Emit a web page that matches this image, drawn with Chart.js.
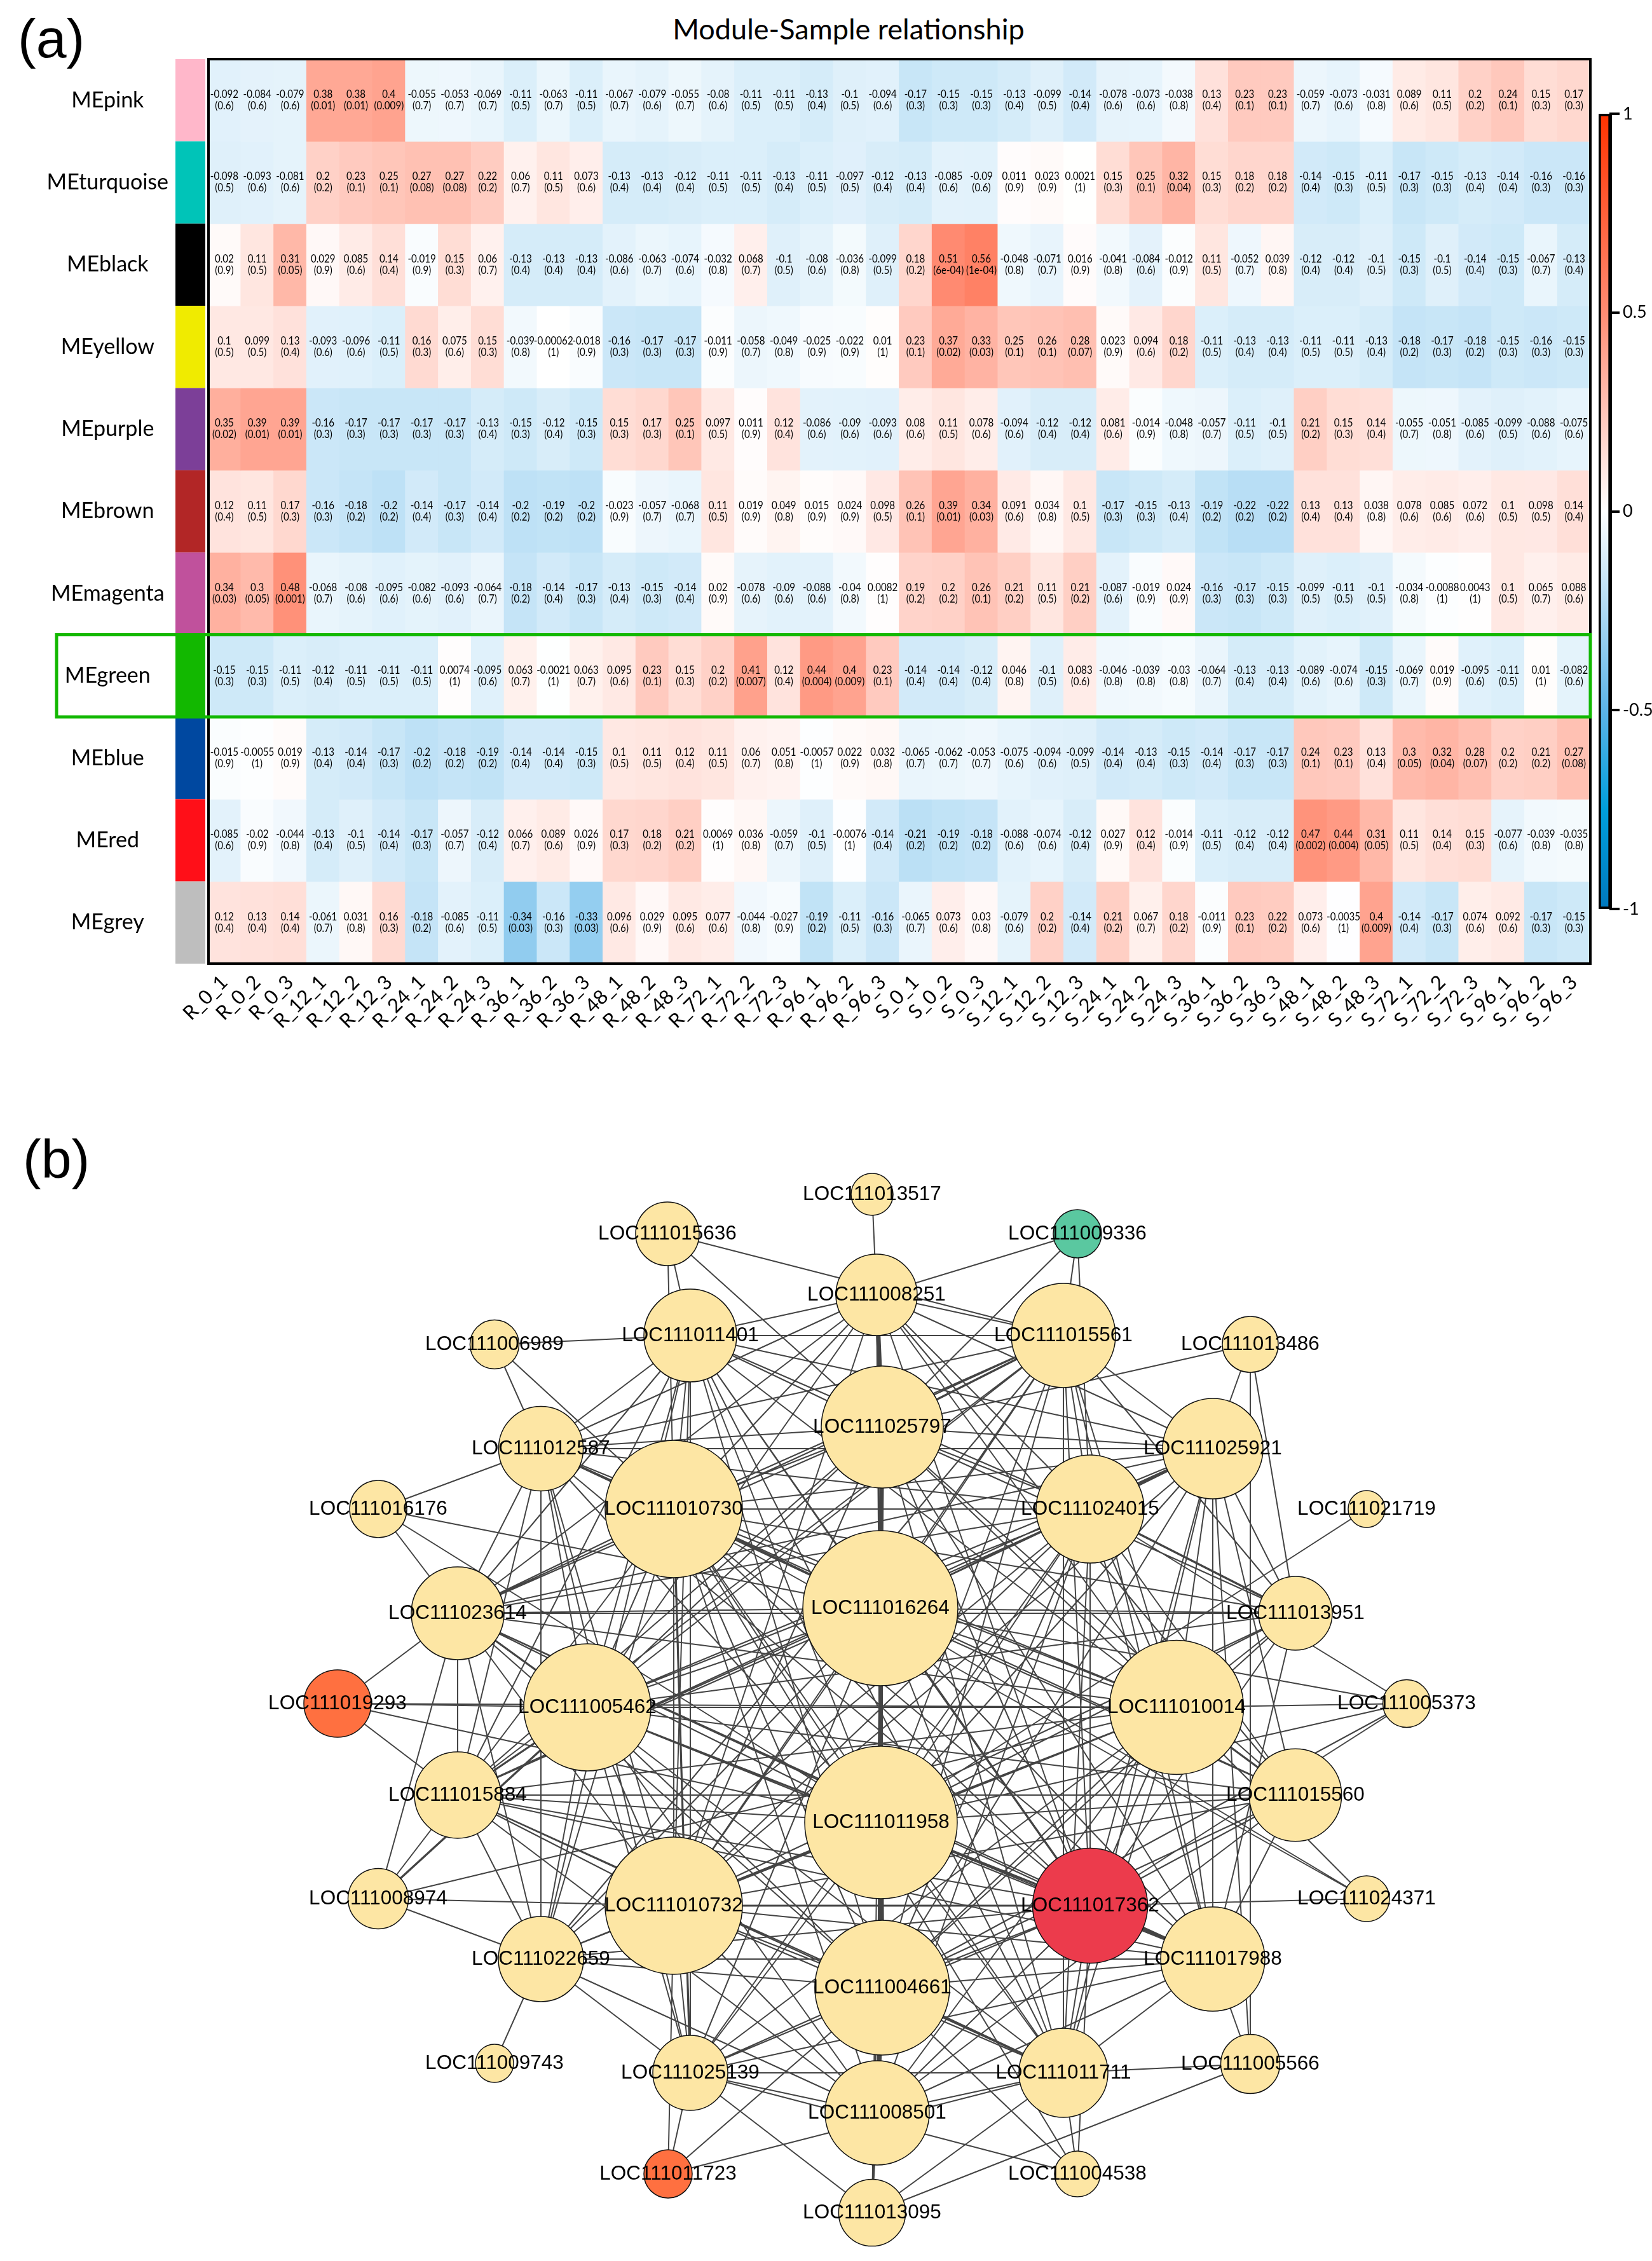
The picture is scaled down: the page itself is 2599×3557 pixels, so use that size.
<!DOCTYPE html>
<html><head><meta charset="utf-8">
<style>
html,body{margin:0;padding:0;background:#fff;width:2599px;height:3557px;overflow:hidden}
canvas{position:absolute;display:block}
.t{position:absolute;color:#000;white-space:nowrap;font-family:"Liberation Sans",sans-serif}
</style>
<script src="https://cdn.jsdelivr.net/npm/chart.js@4"></script>
</head><body>
<div class="t" style="left:28px;top:10px;font-size:86px;line-height:100px">(a)</div>
<div class="t" style="left:36px;top:1773px;font-size:86px;line-height:100px">(b)</div>
<div class="t" style="left:1035px;top:18px;width:600px;text-align:center;font-size:45px;line-height:54px;font-family:Lato,sans-serif">Module-Sample relationship</div>
<canvas id="heat" width="2599" height="1700" style="left:0;top:0;width:2599px;height:1700px"></canvas>
<canvas id="bar" width="99" height="1310" style="left:2500px;top:150px;width:99px;height:1310px"></canvas>
<canvas id="net" width="2599" height="1857" style="left:0;top:1700px;width:2599px;height:1857px"></canvas>
<script>
const samples=["R_0_1","R_0_2","R_0_3","R_12_1","R_12_2","R_12_3","R_24_1","R_24_2","R_24_3","R_36_1","R_36_2","R_36_3","R_48_1","R_48_2","R_48_3","R_72_1","R_72_2","R_72_3","R_96_1","R_96_2","R_96_3","S_0_1","S_0_2","S_0_3","S_12_1","S_12_2","S_12_3","S_24_1","S_24_2","S_24_3","S_36_1","S_36_2","S_36_3","S_48_1","S_48_2","S_48_3","S_72_1","S_72_2","S_72_3","S_96_1","S_96_2","S_96_3"];
const moduleNames=["MEpink","MEturquoise","MEblack","MEyellow","MEpurple","MEbrown","MEmagenta","MEgreen","MEblue","MEred","MEgrey"];
const moduleColors=["#FFB7CA","#00C4B8","#000000","#F0EB00","#7C3F98","#B22626","#C0519C","#12B800","#0048A0","#FF0F18","#BEBEBE"];
const highlightedModule="MEgreen";
const rPink=[-0.092,-0.084,-0.079,0.38,0.38,0.4,-0.055,-0.053,-0.069,-0.11,-0.063,-0.11,-0.067,-0.079,-0.055,-0.08,-0.11,-0.11,-0.13,-0.1,-0.094,-0.17,-0.15,-0.15,-0.13,-0.099,-0.14,-0.078,-0.073,-0.038,0.13,0.23,0.23,-0.059,-0.073,-0.031,0.089,0.11,0.2,0.24,0.15,0.17];
const pPink=[0.6,0.6,0.6,0.01,0.01,0.009,0.7,0.7,0.7,0.5,0.7,0.5,0.7,0.6,0.7,0.6,0.5,0.5,0.4,0.5,0.6,0.3,0.3,0.3,0.4,0.5,0.4,0.6,0.6,0.8,0.4,0.1,0.1,0.7,0.6,0.8,0.6,0.5,0.2,0.1,0.3,0.3];
const rTurquoise=[-0.098,-0.093,-0.081,0.2,0.23,0.25,0.27,0.27,0.22,0.06,0.11,0.073,-0.13,-0.13,-0.12,-0.11,-0.11,-0.13,-0.11,-0.097,-0.12,-0.13,-0.085,-0.09,0.011,0.023,0.0021,0.15,0.25,0.32,0.15,0.18,0.18,-0.14,-0.15,-0.11,-0.17,-0.15,-0.13,-0.14,-0.16,-0.16];
const pTurquoise=[0.5,0.6,0.6,0.2,0.1,0.1,0.08,0.08,0.2,0.7,0.5,0.6,0.4,0.4,0.4,0.5,0.5,0.4,0.5,0.5,0.4,0.4,0.6,0.6,0.9,0.9,1,0.3,0.1,0.04,0.3,0.2,0.2,0.4,0.3,0.5,0.3,0.3,0.4,0.4,0.3,0.3];
const rBlack=[0.02,0.11,0.31,0.029,0.085,0.14,-0.019,0.15,0.06,-0.13,-0.13,-0.13,-0.086,-0.063,-0.074,-0.032,0.068,-0.1,-0.08,-0.036,-0.099,0.18,0.51,0.56,-0.048,-0.071,0.016,-0.041,-0.084,-0.012,0.11,-0.052,0.039,-0.12,-0.12,-0.1,-0.15,-0.1,-0.14,-0.15,-0.067,-0.13];
const pBlack=[0.9,0.5,0.05,0.9,0.6,0.4,0.9,0.3,0.7,0.4,0.4,0.4,0.6,0.7,0.6,0.8,0.7,0.5,0.6,0.8,0.5,0.2,"6e-04","1e-04",0.8,0.7,0.9,0.8,0.6,0.9,0.5,0.7,0.8,0.4,0.4,0.5,0.3,0.5,0.4,0.3,0.7,0.4];
const rYellow=[0.1,0.099,0.13,-0.093,-0.096,-0.11,0.16,0.075,0.15,-0.039,-0.00062,-0.018,-0.16,-0.17,-0.17,-0.011,-0.058,-0.049,-0.025,-0.022,0.01,0.23,0.37,0.33,0.25,0.26,0.28,0.023,0.094,0.18,-0.11,-0.13,-0.13,-0.11,-0.11,-0.13,-0.18,-0.17,-0.18,-0.15,-0.16,-0.15];
const pYellow=[0.5,0.5,0.4,0.6,0.6,0.5,0.3,0.6,0.3,0.8,1,0.9,0.3,0.3,0.3,0.9,0.7,0.8,0.9,0.9,1,0.1,0.02,0.03,0.1,0.1,0.07,0.9,0.6,0.2,0.5,0.4,0.4,0.5,0.5,0.4,0.2,0.3,0.2,0.3,0.3,0.3];
const rPurple=[0.35,0.39,0.39,-0.16,-0.17,-0.17,-0.17,-0.17,-0.13,-0.15,-0.12,-0.15,0.15,0.17,0.25,0.097,0.011,0.12,-0.086,-0.09,-0.093,0.08,0.11,0.078,-0.094,-0.12,-0.12,0.081,-0.014,-0.048,-0.057,-0.11,-0.1,0.21,0.15,0.14,-0.055,-0.051,-0.085,-0.099,-0.088,-0.075];
const pPurple=[0.02,0.01,0.01,0.3,0.3,0.3,0.3,0.3,0.4,0.3,0.4,0.3,0.3,0.3,0.1,0.5,0.9,0.4,0.6,0.6,0.6,0.6,0.5,0.6,0.6,0.4,0.4,0.6,0.9,0.8,0.7,0.5,0.5,0.2,0.3,0.4,0.7,0.8,0.6,0.5,0.6,0.6];
const rBrown=[0.12,0.11,0.17,-0.16,-0.18,-0.2,-0.14,-0.17,-0.14,-0.2,-0.19,-0.2,-0.023,-0.057,-0.068,0.11,0.019,0.049,0.015,0.024,0.098,0.26,0.39,0.34,0.091,0.034,0.1,-0.17,-0.15,-0.13,-0.19,-0.22,-0.22,0.13,0.13,0.038,0.078,0.085,0.072,0.1,0.098,0.14];
const pBrown=[0.4,0.5,0.3,0.3,0.2,0.2,0.4,0.3,0.4,0.2,0.2,0.2,0.9,0.7,0.7,0.5,0.9,0.8,0.9,0.9,0.5,0.1,0.01,0.03,0.6,0.8,0.5,0.3,0.3,0.4,0.2,0.2,0.2,0.4,0.4,0.8,0.6,0.6,0.6,0.5,0.5,0.4];
const rMagenta=[0.34,0.3,0.48,-0.068,-0.08,-0.095,-0.082,-0.093,-0.064,-0.18,-0.14,-0.17,-0.13,-0.15,-0.14,0.02,-0.078,-0.09,-0.088,-0.04,0.0082,0.19,0.2,0.26,0.21,0.11,0.21,-0.087,-0.019,0.024,-0.16,-0.17,-0.15,-0.099,-0.11,-0.1,-0.034,-0.0088,0.0043,0.1,0.065,0.088];
const pMagenta=[0.03,0.05,0.001,0.7,0.6,0.6,0.6,0.6,0.7,0.2,0.4,0.3,0.4,0.3,0.4,0.9,0.6,0.6,0.6,0.8,1,0.2,0.2,0.1,0.2,0.5,0.2,0.6,0.9,0.9,0.3,0.3,0.3,0.5,0.5,0.5,0.8,1,1,0.5,0.7,0.6];
const rGreen=[-0.15,-0.15,-0.11,-0.12,-0.11,-0.11,-0.11,0.0074,-0.095,0.063,-0.0021,0.063,0.095,0.23,0.15,0.2,0.41,0.12,0.44,0.4,0.23,-0.14,-0.14,-0.12,0.046,-0.1,0.083,-0.046,-0.039,-0.03,-0.064,-0.13,-0.13,-0.089,-0.074,-0.15,-0.069,0.019,-0.095,-0.11,0.01,-0.082];
const pGreen=[0.3,0.3,0.5,0.4,0.5,0.5,0.5,1,0.6,0.7,1,0.7,0.6,0.1,0.3,0.2,0.007,0.4,0.004,0.009,0.1,0.4,0.4,0.4,0.8,0.5,0.6,0.8,0.8,0.8,0.7,0.4,0.4,0.6,0.6,0.3,0.7,0.9,0.6,0.5,1,0.6];
const rBlue=[-0.015,-0.0055,0.019,-0.13,-0.14,-0.17,-0.2,-0.18,-0.19,-0.14,-0.14,-0.15,0.1,0.11,0.12,0.11,0.06,0.051,-0.0057,0.022,0.032,-0.065,-0.062,-0.053,-0.075,-0.094,-0.099,-0.14,-0.13,-0.15,-0.14,-0.17,-0.17,0.24,0.23,0.13,0.3,0.32,0.28,0.2,0.21,0.27];
const pBlue=[0.9,1,0.9,0.4,0.4,0.3,0.2,0.2,0.2,0.4,0.4,0.3,0.5,0.5,0.4,0.5,0.7,0.8,1,0.9,0.8,0.7,0.7,0.7,0.6,0.6,0.5,0.4,0.4,0.3,0.4,0.3,0.3,0.1,0.1,0.4,0.05,0.04,0.07,0.2,0.2,0.08];
const rRed=[-0.085,-0.02,-0.044,-0.13,-0.1,-0.14,-0.17,-0.057,-0.12,0.066,0.089,0.026,0.17,0.18,0.21,0.0069,0.036,-0.059,-0.1,-0.0076,-0.14,-0.21,-0.19,-0.18,-0.088,-0.074,-0.12,0.027,0.12,-0.014,-0.11,-0.12,-0.12,0.47,0.44,0.31,0.11,0.14,0.15,-0.077,-0.039,-0.035];
const pRed=[0.6,0.9,0.8,0.4,0.5,0.4,0.3,0.7,0.4,0.7,0.6,0.9,0.3,0.2,0.2,1,0.8,0.7,0.5,1,0.4,0.2,0.2,0.2,0.6,0.6,0.4,0.9,0.4,0.9,0.5,0.4,0.4,0.002,0.004,0.05,0.5,0.4,0.3,0.6,0.8,0.8];
const rGrey=[0.12,0.13,0.14,-0.061,0.031,0.16,-0.18,-0.085,-0.11,-0.34,-0.16,-0.33,0.096,0.029,0.095,0.077,-0.044,-0.027,-0.19,-0.11,-0.16,-0.065,0.073,0.03,-0.079,0.2,-0.14,0.21,0.067,0.18,-0.011,0.23,0.22,0.073,-0.0035,0.4,-0.14,-0.17,0.074,0.092,-0.17,-0.15];
const pGrey=[0.4,0.4,0.4,0.7,0.8,0.3,0.2,0.6,0.5,0.03,0.3,0.03,0.6,0.9,0.6,0.6,0.8,0.9,0.2,0.5,0.3,0.7,0.6,0.8,0.6,0.2,0.4,0.2,0.7,0.2,0.9,0.1,0.2,0.6,1,0.009,0.4,0.3,0.6,0.6,0.3,0.3];
const correlations=[rPink,rTurquoise,rBlack,rYellow,rPurple,rBrown,rMagenta,rGreen,rBlue,rRed,rGrey];
const pvalues=[pPink,pTurquoise,pBlack,pYellow,pPurple,pBrown,pMagenta,pGreen,pBlue,pRed,pGrey];
const colorbarTicks=[1,0.5,0,-0.5,-1];
const paletteValues=[-1,-0.75,-0.5,0,0.5,1];
const paletteRGB=[[0,120,190],[0,159,220],[93,180,232],[255,255,255],[255,140,115],[255,51,0]];

const nodeLabels=["LOC111013517","LOC111015636","LOC111009336","LOC111008251","LOC111011401","LOC111015561","LOC111006989","LOC111013486","LOC111025797","LOC111012587","LOC111025921","LOC111016176","LOC111010730","LOC111024015","LOC111021719","LOC111016264","LOC111023614","LOC111013951","LOC111019293","LOC111005462","LOC111010014","LOC111005373","LOC111015884","LOC111015560","LOC111011958","LOC111008974","LOC111010732","LOC111017362","LOC111024371","LOC111022659","LOC111017988","LOC111004661","LOC111009743","LOC111005566","LOC111025139","LOC111011711","LOC111008501","LOC111011723","LOC111004538","LOC111013095"];
const nodeX=[-13,-335,310,-6,-299,288,-607,582,3,-534,523,-790,-325,330,765,0,-665,653,-854,-461,466,828,-665,653,1,-790,-325,330,765,-534,523,3,-607,582,-299,288,-5,-334,310,-13];
const nodeY=[801,739,739,643,579,579,565,565,435,401,401,306,306,306,306,150,142,142,0,-6,-6,0,-144,-144,-187,-307,-318,-318,-307,-402,-402,-447,-566,-567,-581,-581,-644,-740,-740,-801];
const nodeSize=[33,50,38,64,73,82,38.6,44,96,66.6,79,45,108,85,29,122,73,58,53,100,105.5,37.5,68,72.7,120,47.5,108,90.5,36,67,82,106,30,46.5,59,70,82,38,36,52.6];
const nodeFill=["#FDE6A4","#FDE6A4","#5AC8A0","#FDE6A4","#FDE6A4","#FDE6A4","#FDE6A4","#FDE6A4","#FDE6A4","#FDE6A4","#FDE6A4","#FDE6A4","#FDE6A4","#FDE6A4","#FDE6A4","#FDE6A4","#FDE6A4","#FDE6A4","#FF7040","#FDE6A4","#FDE6A4","#FDE6A4","#FDE6A4","#FDE6A4","#FDE6A4","#FDE6A4","#FDE6A4","#EC3B4C","#FDE6A4","#FDE6A4","#FDE6A4","#FDE6A4","#FDE6A4","#FDE6A4","#FDE6A4","#FDE6A4","#FDE6A4","#FF7040","#FDE6A4","#FDE6A4"];
const edgeLists=[
"16264: 25797 11958 04661 08501 08251 10730 10732 05462 10014 17362 24015 11401 15561 12587 23614 15884 13951 25921 15560 17988 11711 22659 25139 13095 16176 05373 24371",
"11958: 25797 04661 08501 08251 10730 10732 05462 10014 17362 24015 15561 11401 23614 15884 25921 15560 17988 11711 22659 25139 12587 13095 13951 21719 05373 19293 16176",
"04661: 08501 25797 08251 10730 10732 05462 10014 17362 24015 11711 17988 15884 23614 15560 25921 22659 25139 13095 13951 11401 15561 05373 11723 04538",
"08501: 25797 13095 10732 10730 05462 10014 17362 11711 17988 24015 25139 22659 15884 15560",
"25797: 08251 10730 10732 05462 10014 17362 24015 15561 11401 12587 23614 15884 25921 13951 15560 17988 11711 13486 15636 09336",
"08251: 10730 05462 10014 24015 15561 11401 12587 25921 23614 15560 17362 10732 13517 09336",
"10730: 10732 05462 10014 17362 24015 11401 15561 12587 23614 15884 25921 17988 15560 13951 11711 06989 22659 25139 15636 04538 24371",
"10732: 05462 10014 17362 24015 11401 15561 12587 23614 15884 22659 25921 17988 15560 13951 11711 08974 25139 11723",
"05462: 10014 17362 24015 23614 15884 11401 15561 12587 22659 25921 17988 11711 13951 15560 19293 25139 08974",
"10014: 17362 24015 15561 11401 12587 23614 15884 25921 17988 13951 15560 22659 11711 25139 05373 19293 08974 24371",
"17362: 24015 15561 11401 12587 23614 15884 25921 17988 15560 13951 24371 22659 11711 04538 25139 05373",
"24015: 15561 25921 11401 12587 23614 15884 13951 15560 17988 11711 22659 25139 05373 09336",
"15561: 25921 11401 12587 23614 15884 17988 13951 11711 09336 22659 15636",
"11401: 15636 06989 12587 23614 15884 25921 22659 25139 11711",
"12587: 06989 16176 25921 23614 15884 22659 25139",
"23614: 16176 19293 15884 25921 13951 22659 08974 17988",
"15884: 19293 08974 25921 17988 22659 11711 15560",
"25921: 13486 13951 15560 17988 05566 11711",
"13486: 05566 13951",
"17988: 05566 13951 15560 11711 25139 22659",
"05566: 11711 13095",
"11711: 13095 25139 11723 04538",
"25139: 11723 13095 22659 04538",
"22659: 09743 08974"
];
const heavyEdges=["08251 25797","25797 16264","16264 11958","11958 04661","04661 08501"];
const mediumEdges=["25139 10730","12587 10730","23614 05462","15884 05462","25921 24015","24015 13951","11958 17362","17362 17988","04661 11711","10732 17362","16264 17362","10730 16264","11958 10732","08974 05462","25797 15561","10014 15560"];

function paletteColor(v){
  let i=0; while(i<paletteValues.length-2&&v>paletteValues[i+1])i++;
  const t=(v-paletteValues[i])/(paletteValues[i+1]-paletteValues[i]);
  const a=paletteRGB[i],b=paletteRGB[i+1];
  return `rgb(${a.map((c,k)=>Math.round(c+(b[k]-c)*t)).join(",")})`;
}
Chart.defaults.animation=false;
Chart.defaults.devicePixelRatio=1;
Chart.defaults.responsive=false;
Chart.defaults.events=[];
Chart.defaults.plugins.legend.display=false;
Chart.defaults.plugins.tooltip.enabled=false;
Chart.defaults.color="#000";

const heatPlugin={id:"heatPlugin",
 afterDatasetsDraw(chart){
  const c=chart.ctx,{left,right,top,bottom}=chart.chartArea,y=chart.scales.y;
  // module colour strip
  moduleColors.forEach((col,i)=>{c.fillStyle=col;c.fillRect(276,y.getPixelForValue(i),47,y.getPixelForValue(i+1)-y.getPixelForValue(i));});
  // cell texts (narrowed to match the condensed face of the figure)
  c.fillStyle="#000";c.textAlign="center";c.textBaseline="middle";c.font='18px Lato,sans-serif';
  chart.data.datasets.forEach((ds,di)=>{
    chart.getDatasetMeta(di).data.forEach((el,ci)=>{
      const p=el.getCenterPoint(),raw=ds.data[ci];
      c.save();c.translate(p.x,p.y);c.scale(0.84,1);
      c.fillText(String(raw.r),0,-9.5);
      c.fillText("("+raw.p+")",0,8.5);
      c.restore();
    });
  });
  // frame
  c.strokeStyle="#000";c.lineWidth=4;c.strokeRect(left+1,top,right-left-1,bottom-top);
  // highlight box
  const h=moduleNames.indexOf(highlightedModule);
  c.strokeStyle=moduleColors[h];c.lineWidth=5;
  c.strokeRect(89,y.getPixelForValue(h),right-89,y.getPixelForValue(h+1)-y.getPixelForValue(h));
 }};
new Chart(document.getElementById("heat"),{
 type:"bar",
 data:{labels:samples,datasets:moduleNames.map((m,i)=>({
   label:m,
   data:samples.map((s,k)=>({x:s,y:[i,i+1],r:correlations[i][k],p:pvalues[i][k]})),
   backgroundColor:ctx=>paletteColor(ctx.raw?ctx.raw.r:0),
   borderWidth:0,inflateAmount:0.4,grouped:false,barPercentage:1,categoryPercentage:1
 }))},
 options:{
  layout:{padding:{top:93,right:97,left:0,bottom:0}},
  scales:{
   x:{stacked:true,grid:{display:false},border:{display:false},
      afterFit(s){s.height=184;},
      ticks:{autoSkip:false,minRotation:45,maxRotation:45,padding:3,font:{size:31,family:"Lato"}}},
   y:{reverse:true,min:0,max:11,grid:{display:false,drawTicks:false},border:{display:false},
      afterBuildTicks(s){s.ticks=moduleNames.map((m,i)=>({value:i+0.5}));},
      afterFit(s){s.width=327;},
      ticks:{crossAlign:"center",padding:62,font:{size:34,family:"Lato"},callback:v=>moduleNames[Math.floor(v)]}}
  }
 },
 plugins:[heatPlugin]
});

new Chart(document.getElementById("bar"),{
 type:"bar",
 data:{labels:["r"],datasets:[{data:[[-1,1]],barPercentage:1,categoryPercentage:1,borderWidth:4,borderColor:"#000",borderSkipped:false,
   backgroundColor(ctx){
     const a=ctx.chart.chartArea; if(!a)return "#fff";
     const y=ctx.chart.scales.y,g=ctx.chart.ctx.createLinearGradient(0,y.getPixelForValue(1),0,y.getPixelForValue(-1));
     paletteValues.forEach(v=>g.addColorStop((1-v)/2,paletteColor(v)));
     return g;
   }}]},
 options:{
  layout:{padding:{top:29,bottom:30,left:15,right:0}},
  scales:{
   x:{display:false},
   y:{position:"right",min:-1,max:1,
      border:{color:"#000",width:4},
      grid:{drawOnChartArea:false,color:"#000",lineWidth:4,tickLength:14,drawTicks:true},
      afterBuildTicks(s){s.ticks=colorbarTicks.map(v=>({value:v}));},
      afterFit(s){s.width=65;},
      ticks:{padding:5,font:{size:27,family:"Lato"},callback:v=>String(v)}}
  }
 }
});

function code(label){return label.slice(-5);}
const nodeIndex={};nodeLabels.forEach((l,i)=>nodeIndex[code(l)]=i);
function segment(a,b){
  const i=nodeIndex[a],j=nodeIndex[b];
  return [{x:nodeX[i],y:nodeY[i]},{x:nodeX[j],y:nodeY[j]},{x:NaN,y:NaN}];
}
const edgePoints=edgeLists.flatMap(line=>{const [a,rest]=line.split(": ");return rest.split(" ").flatMap(b=>segment(a,b));});
const pairPoints=list=>list.flatMap(s=>{const [a,b]=s.split(" ");return segment(a,b);});
const edgeStyle={type:"scatter",showLine:true,pointRadius:0,borderColor:"#444444",spanGaps:false,clip:false,order:2};
const netPlugin={id:"netPlugin",afterDatasetsDraw(chart){
  const c=chart.ctx,m=chart.getDatasetMeta(0);
  c.fillStyle="#000";c.textAlign="center";c.textBaseline="middle";c.font='31.5px "Liberation Sans",sans-serif';
  m.data.forEach((el,i)=>c.fillText(nodeLabels[i],el.x,el.y));
}};
new Chart(document.getElementById("net"),{
 data:{datasets:[
  {type:"bubble",data:nodeLabels.map((l,i)=>({x:nodeX[i],y:nodeY[i],r:nodeSize[i]})),backgroundColor:nodeFill,borderColor:"#111",borderWidth:1.5,clip:false,order:0},
  {...edgeStyle,data:edgePoints,borderWidth:2},
  {...edgeStyle,data:pairPoints(mediumEdges),borderWidth:3.2},
  {...edgeStyle,data:pairPoints(heavyEdges),borderWidth:7}
 ]},
 options:{
  layout:{padding:0,autoPadding:false},
  scales:{
   x:{type:"linear",display:false,min:-1385,max:1214},
   y:{type:"linear",display:false,min:-877,max:980}
  }
 },
 plugins:[netPlugin]
});
</script>
</body></html>
